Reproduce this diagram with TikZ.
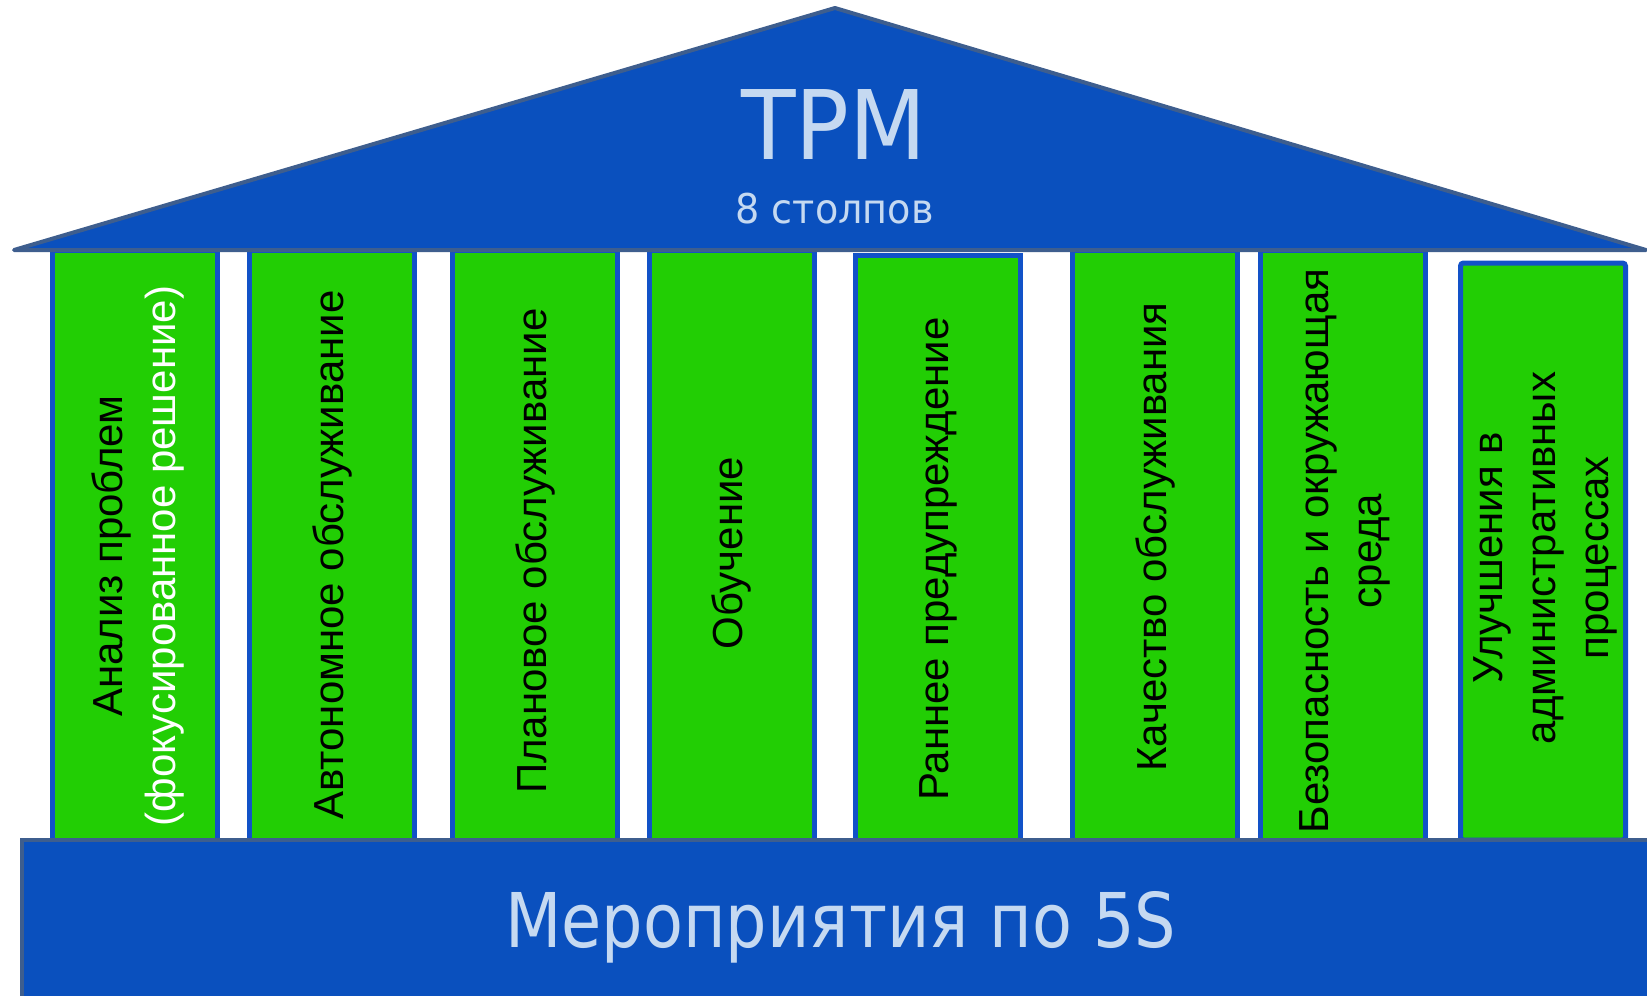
\documentclass[tikz,border=0pt]{standalone}
\usepackage{fontspec}
\setmainfont{Liberation Sans}
\newfontfamily\rooffont{DejaVu Sans}
\usepackage{xcolor}
\definecolor{roofblue}{RGB}{10,80,190}
\definecolor{roofline}{RGB}{62,94,142}
\definecolor{pillargreen}{RGB}{34,206,4}
\definecolor{pillarline}{RGB}{18,82,200}
\definecolor{lightblue}{RGB}{197,217,241}
\usepackage{tikz}
\newcommand{\widthpillar}{165pt}
\newcommand{\pillarfont}{\fontsize{42}{53}\selectfont}
\newcommand{\roofsize}[3]{\rooffont\addfontfeature{FakeStretch=#1}\fontsize{#2}{#3}\selectfont}
\tikzset{
    roof/.style={draw=roofline, fill=roofblue, line width=4pt, line join=round},
    pillar/.style={rectangle, draw=pillarline, fill=pillargreen, line width=5pt, minimum width=\widthpillar, inner sep=0pt, outer sep=0pt},
    pillartext/.style={rotate=90, align=center, inner sep=0pt, font=\pillarfont},
    rooftext/.style={text=lightblue, inner sep=0pt}
}

\begin{document}
\begin{tikzpicture}[x=1pt, y=-1pt]
    \useasboundingbox (0,0) rectangle (1647,996);
    \clip (0,0) rectangle (1647,996);

    % pillars
    \node[pillar, minimum height=590pt] (p1) at (135,545) {};
    \node[pillar, minimum height=590pt] (p2) at (332,545) {};
    \node[pillar, minimum height=590pt] (p3) at (535,545) {};
    \node[pillar, minimum height=590pt] (p4) at (731.5,545) {};
    \node[pillar, minimum height=585pt] (p5) at (938,547.5) {};
    \node[pillar, minimum height=590pt] (p6) at (1155,545) {};
    \node[pillar, minimum height=590pt] (p7) at (1343,545) {};
    \node[pillar, minimum height=577pt, rounded corners=3pt] (p8) at (1543,551.5) {};

    \node[pillartext] (t1) at (137.5,556) {Анализ проблем\\\textcolor{white}{(фокусированное решение)}};
    \node[pillartext] (t2) at (332,555) {Автономное обслуживание};
    \node[pillartext] (t3) at (535,551) {Плановое обслуживание};
    \node[pillartext] (t4) at (731.5,553) {Обучение};
    \node[pillartext] (t5) at (938,559) {Раннее предупреждение};
    \node[pillartext] (t6) at (1155,537) {Качество обслуживания};
    \node[pillartext] (t7) at (1345,551) {Безопасность и окружающая\\среда};
    \node[pillartext] (t8) at (1545,558) {Улучшения в\\административных\\процессах};

    % roof
    \draw[roof] (14,250) -- (835,8) -- (1646,250) -- cycle;
    \node[rooftext, font=\roofsize{0.93}{96}{110}] (tpm) at (834,125) {TPM};
    \node[rooftext, font=\roofsize{0.93}{41}{48}] (pillars) at (834.5,209) {8 столпов};

    % base
    \draw[roof, line join=miter] (22,840) rectangle (1670,1020);
    \node[rooftext, anchor=base, font=\roofsize{0.865}{75.5}{90}] (fives) at (840.5,947) {Мероприятия по 5S};
\end{tikzpicture}
\end{document}
